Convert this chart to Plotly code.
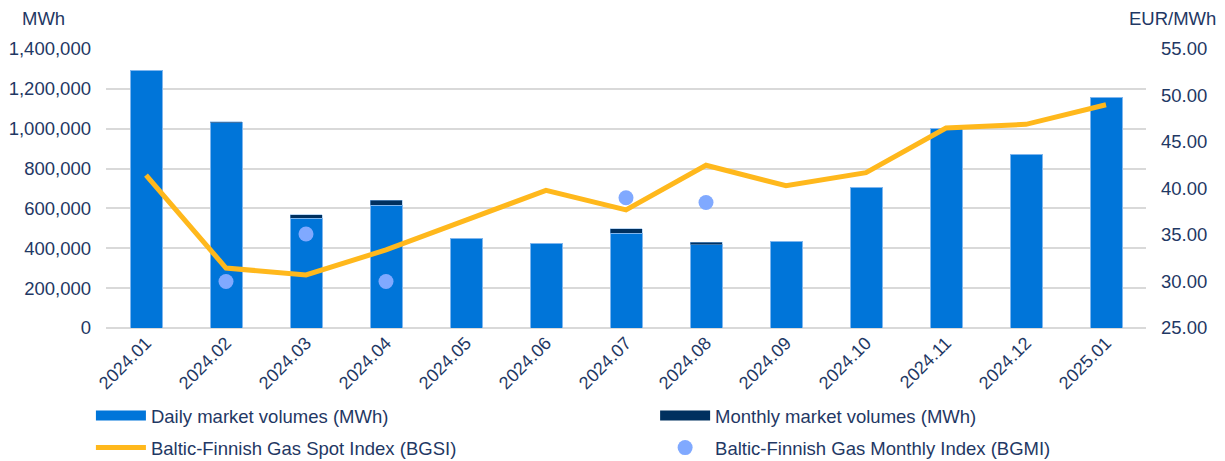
import plotly.graph_objects as go

months = ["2024.01", "2024.02", "2024.03", "2024.04", "2024.05", "2024.06", "2024.07",
          "2024.08", "2024.09", "2024.10", "2024.11", "2024.12", "2025.01"]
daily_volumes = [1290000, 1030000, 551000, 617000, 450000, 426000, 476000,
                 418000, 433000, 707000, 1003000, 873000, 1158000]
monthly_volumes = [0, 4000, 17000, 23000, 0, 0, 21000, 13000, 0, 0, 0, 0, 0]
bgsi = [41.45, 31.45, 30.7, 33.4, 36.6, 39.8, 37.7, 42.5, 40.3, 41.7, 46.5, 46.9, 49.0]
bgmi_months = ["2024.02", "2024.03", "2024.04", "2024.07", "2024.08"]
bgmi = [30.0, 35.1, 30.0, 39.0, 38.5]

TXT = "#1f3864"
FONT = "Liberation Sans, Arial, sans-serif"
FS = 18.5
DAILY_C = "#0075d9"
MONTHLY_C = "#00305f"

fig = go.Figure()
fig.add_trace(go.Bar(
    x=months, y=daily_volumes, name="Daily market volumes (MWh)",
    marker=dict(color=DAILY_C, line=dict(color="#7fb6ee", width=1)),
    width=0.4, yaxis="y", showlegend=False))
fig.add_trace(go.Bar(
    x=months, y=monthly_volumes, name="Monthly market volumes (MWh)",
    marker=dict(color=MONTHLY_C, line=dict(color="#7fb6ee", width=0.5)),
    width=0.4, yaxis="y", showlegend=False))
fig.add_trace(go.Scatter(
    x=months, y=bgsi, name="Baltic-Finnish Gas Spot Index (BGSI)",
    mode="lines", line=dict(color="#ffb81c", width=5), yaxis="y2",
    legend="legend", legendgroup="c", legendrank=2))
fig.add_trace(go.Scatter(
    x=bgmi_months, y=bgmi, name="Baltic-Finnish Gas Monthly Index (BGMI)",
    mode="markers", marker=dict(color="#80a9ff", size=15), yaxis="y2",
    legend="legend2", legendgroup="d", legendrank=2))
# legend-only entries giving the bars a wide rectangular swatch
fig.add_trace(go.Scatter(
    x=[None], y=[None], name="Daily market volumes (MWh)", mode="lines",
    line=dict(color=DAILY_C, width=10), hoverinfo="skip",
    legend="legend", legendgroup="a", legendrank=1))
fig.add_trace(go.Scatter(
    x=[None], y=[None], name="Monthly market volumes (MWh)", mode="lines",
    line=dict(color=MONTHLY_C, width=10), hoverinfo="skip",
    legend="legend2", legendgroup="b", legendrank=1))

leg_common = dict(
    orientation="v", xref="paper", yref="paper", xanchor="left", yanchor="top",
    font=dict(family=FONT, size=FS, color=TXT), itemwidth=50,
    traceorder="grouped", tracegroupgap=5, bgcolor="rgba(0,0,0,0)",
)

# page has an 8px body margin, so the figure is sized/offset accordingly
fig.update_layout(
    width=1217, height=453,
    margin=dict(l=98, r=79, t=41, b=133, autoexpand=False),
    paper_bgcolor="white", plot_bgcolor="white",
    barmode="stack",
    font=dict(family=FONT, size=FS, color=TXT),
    showlegend=True,
    legend=dict(x=-0.0145, y=-0.2473, **leg_common),
    legend2=dict(x=0.528, y=-0.2473, **leg_common),
    xaxis=dict(
        type="category", tickangle=-45, showgrid=False, automargin=False,
        showline=False, ticks="", tickfont=dict(size=18, color=TXT),
    ),
    yaxis=dict(
        range=[0, 1400000], dtick=200000, tickformat=",", automargin=False,
        showgrid=True, gridcolor="#d9d9d9", gridwidth=1.5,
        zeroline=True, zerolinecolor="#d9d9d9", zerolinewidth=1.5,
        showline=False, ticks="", ticklabelstandoff=14,
        tickfont=dict(size=FS, color=TXT),
    ),
    yaxis2=dict(
        range=[25, 55], dtick=5, tickformat=".2f", automargin=False,
        overlaying="y", side="right", showgrid=False, zeroline=False,
        showline=False, ticks="", ticklabelstandoff=14,
        tickfont=dict(size=FS, color=TXT),
    ),
    annotations=[
        dict(text="MWh", xref="paper", yref="paper", x=-0.0827, y=1.0,
             yshift=31, xanchor="left", yanchor="middle", showarrow=False,
             font=dict(size=FS, color=TXT)),
        dict(text="EUR/MWh", xref="paper", yref="paper", x=1.0, y=1.0,
             xshift=72, yshift=31, xanchor="right", yanchor="middle", showarrow=False,
             font=dict(size=FS, color=TXT)),
    ],
)

fig.write_html("out.html")
